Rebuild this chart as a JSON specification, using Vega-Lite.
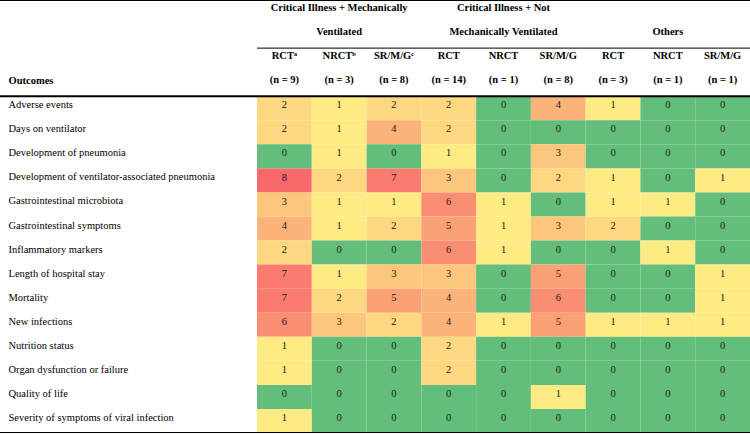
{
  "$schema": "https://vega.github.io/schema/vega-lite/v6.json",
  "width": 750,
  "height": 433,
  "autosize": {"type": "none"},
  "padding": 0,
  "background": "white",
  "config": {
    "view": {"stroke": null},
    "font": "Liberation Serif",
    "axisY": {"title": null, "domain": false, "ticks": false, "grid": false,
      "labelAlign": "left", "labelBaseline": "middle", "labelPadding": -8, "labelOffset": -3,
      "labelFont": "Liberation Serif", "labelFontSize": 10.5, "labelColor": "black",
      "labelLimit": 400, "labelOverlap": false}
  },
  "datasets": {
    "cells": [
      {"row": "Adverse events", "col": "c1", "value": 2}, {"row": "Adverse events", "col": "c2", "value": 1}, {"row": "Adverse events", "col": "c3", "value": 2}, {"row": "Adverse events", "col": "c4", "value": 2}, {"row": "Adverse events", "col": "c5", "value": 0}, {"row": "Adverse events", "col": "c6", "value": 4}, {"row": "Adverse events", "col": "c7", "value": 1}, {"row": "Adverse events", "col": "c8", "value": 0}, {"row": "Adverse events", "col": "c9", "value": 0},
      {"row": "Days on ventilator", "col": "c1", "value": 2}, {"row": "Days on ventilator", "col": "c2", "value": 1}, {"row": "Days on ventilator", "col": "c3", "value": 4}, {"row": "Days on ventilator", "col": "c4", "value": 2}, {"row": "Days on ventilator", "col": "c5", "value": 0}, {"row": "Days on ventilator", "col": "c6", "value": 0}, {"row": "Days on ventilator", "col": "c7", "value": 0}, {"row": "Days on ventilator", "col": "c8", "value": 0}, {"row": "Days on ventilator", "col": "c9", "value": 0},
      {"row": "Development of pneumonia", "col": "c1", "value": 0}, {"row": "Development of pneumonia", "col": "c2", "value": 1}, {"row": "Development of pneumonia", "col": "c3", "value": 0}, {"row": "Development of pneumonia", "col": "c4", "value": 1}, {"row": "Development of pneumonia", "col": "c5", "value": 0}, {"row": "Development of pneumonia", "col": "c6", "value": 3}, {"row": "Development of pneumonia", "col": "c7", "value": 0}, {"row": "Development of pneumonia", "col": "c8", "value": 0}, {"row": "Development of pneumonia", "col": "c9", "value": 0},
      {"row": "Development of ventilator-associated pneumonia", "col": "c1", "value": 8}, {"row": "Development of ventilator-associated pneumonia", "col": "c2", "value": 2}, {"row": "Development of ventilator-associated pneumonia", "col": "c3", "value": 7}, {"row": "Development of ventilator-associated pneumonia", "col": "c4", "value": 3}, {"row": "Development of ventilator-associated pneumonia", "col": "c5", "value": 0}, {"row": "Development of ventilator-associated pneumonia", "col": "c6", "value": 2}, {"row": "Development of ventilator-associated pneumonia", "col": "c7", "value": 1}, {"row": "Development of ventilator-associated pneumonia", "col": "c8", "value": 0}, {"row": "Development of ventilator-associated pneumonia", "col": "c9", "value": 1},
      {"row": "Gastrointestinal microbiota", "col": "c1", "value": 3}, {"row": "Gastrointestinal microbiota", "col": "c2", "value": 1}, {"row": "Gastrointestinal microbiota", "col": "c3", "value": 1}, {"row": "Gastrointestinal microbiota", "col": "c4", "value": 6}, {"row": "Gastrointestinal microbiota", "col": "c5", "value": 1}, {"row": "Gastrointestinal microbiota", "col": "c6", "value": 0}, {"row": "Gastrointestinal microbiota", "col": "c7", "value": 1}, {"row": "Gastrointestinal microbiota", "col": "c8", "value": 1}, {"row": "Gastrointestinal microbiota", "col": "c9", "value": 0},
      {"row": "Gastrointestinal symptoms", "col": "c1", "value": 4}, {"row": "Gastrointestinal symptoms", "col": "c2", "value": 1}, {"row": "Gastrointestinal symptoms", "col": "c3", "value": 2}, {"row": "Gastrointestinal symptoms", "col": "c4", "value": 5}, {"row": "Gastrointestinal symptoms", "col": "c5", "value": 1}, {"row": "Gastrointestinal symptoms", "col": "c6", "value": 3}, {"row": "Gastrointestinal symptoms", "col": "c7", "value": 2}, {"row": "Gastrointestinal symptoms", "col": "c8", "value": 0}, {"row": "Gastrointestinal symptoms", "col": "c9", "value": 0},
      {"row": "Inflammatory markers", "col": "c1", "value": 2}, {"row": "Inflammatory markers", "col": "c2", "value": 0}, {"row": "Inflammatory markers", "col": "c3", "value": 0}, {"row": "Inflammatory markers", "col": "c4", "value": 6}, {"row": "Inflammatory markers", "col": "c5", "value": 1}, {"row": "Inflammatory markers", "col": "c6", "value": 0}, {"row": "Inflammatory markers", "col": "c7", "value": 0}, {"row": "Inflammatory markers", "col": "c8", "value": 1}, {"row": "Inflammatory markers", "col": "c9", "value": 0},
      {"row": "Length of hospital stay", "col": "c1", "value": 7}, {"row": "Length of hospital stay", "col": "c2", "value": 1}, {"row": "Length of hospital stay", "col": "c3", "value": 3}, {"row": "Length of hospital stay", "col": "c4", "value": 3}, {"row": "Length of hospital stay", "col": "c5", "value": 0}, {"row": "Length of hospital stay", "col": "c6", "value": 5}, {"row": "Length of hospital stay", "col": "c7", "value": 0}, {"row": "Length of hospital stay", "col": "c8", "value": 0}, {"row": "Length of hospital stay", "col": "c9", "value": 1},
      {"row": "Mortality", "col": "c1", "value": 7}, {"row": "Mortality", "col": "c2", "value": 2}, {"row": "Mortality", "col": "c3", "value": 5}, {"row": "Mortality", "col": "c4", "value": 4}, {"row": "Mortality", "col": "c5", "value": 0}, {"row": "Mortality", "col": "c6", "value": 6}, {"row": "Mortality", "col": "c7", "value": 0}, {"row": "Mortality", "col": "c8", "value": 0}, {"row": "Mortality", "col": "c9", "value": 1},
      {"row": "New infections", "col": "c1", "value": 6}, {"row": "New infections", "col": "c2", "value": 3}, {"row": "New infections", "col": "c3", "value": 2}, {"row": "New infections", "col": "c4", "value": 4}, {"row": "New infections", "col": "c5", "value": 1}, {"row": "New infections", "col": "c6", "value": 5}, {"row": "New infections", "col": "c7", "value": 1}, {"row": "New infections", "col": "c8", "value": 1}, {"row": "New infections", "col": "c9", "value": 1},
      {"row": "Nutrition status", "col": "c1", "value": 1}, {"row": "Nutrition status", "col": "c2", "value": 0}, {"row": "Nutrition status", "col": "c3", "value": 0}, {"row": "Nutrition status", "col": "c4", "value": 2}, {"row": "Nutrition status", "col": "c5", "value": 0}, {"row": "Nutrition status", "col": "c6", "value": 0}, {"row": "Nutrition status", "col": "c7", "value": 0}, {"row": "Nutrition status", "col": "c8", "value": 0}, {"row": "Nutrition status", "col": "c9", "value": 0},
      {"row": "Organ dysfunction or failure", "col": "c1", "value": 1}, {"row": "Organ dysfunction or failure", "col": "c2", "value": 0}, {"row": "Organ dysfunction or failure", "col": "c3", "value": 0}, {"row": "Organ dysfunction or failure", "col": "c4", "value": 2}, {"row": "Organ dysfunction or failure", "col": "c5", "value": 0}, {"row": "Organ dysfunction or failure", "col": "c6", "value": 0}, {"row": "Organ dysfunction or failure", "col": "c7", "value": 0}, {"row": "Organ dysfunction or failure", "col": "c8", "value": 0}, {"row": "Organ dysfunction or failure", "col": "c9", "value": 0},
      {"row": "Quality of life", "col": "c1", "value": 0}, {"row": "Quality of life", "col": "c2", "value": 0}, {"row": "Quality of life", "col": "c3", "value": 0}, {"row": "Quality of life", "col": "c4", "value": 0}, {"row": "Quality of life", "col": "c5", "value": 0}, {"row": "Quality of life", "col": "c6", "value": 1}, {"row": "Quality of life", "col": "c7", "value": 0}, {"row": "Quality of life", "col": "c8", "value": 0}, {"row": "Quality of life", "col": "c9", "value": 0},
      {"row": "Severity of symptoms of viral infection", "col": "c1", "value": 1}, {"row": "Severity of symptoms of viral infection", "col": "c2", "value": 0}, {"row": "Severity of symptoms of viral infection", "col": "c3", "value": 0}, {"row": "Severity of symptoms of viral infection", "col": "c4", "value": 0}, {"row": "Severity of symptoms of viral infection", "col": "c5", "value": 0}, {"row": "Severity of symptoms of viral infection", "col": "c6", "value": 0}, {"row": "Severity of symptoms of viral infection", "col": "c7", "value": 0}, {"row": "Severity of symptoms of viral infection", "col": "c8", "value": 0}, {"row": "Severity of symptoms of viral infection", "col": "c9", "value": 0}
    ],
    "headers": [
      {"row": "h1", "col": "c2", "label": "Critical Illness + Mechanically"},
      {"row": "h2", "col": "c2", "label": "Ventilated"},
      {"row": "h1", "col": "c5", "label": "Critical Illness + Not"},
      {"row": "h2", "col": "c5", "label": "Mechanically Ventilated"},
      {"row": "h2", "col": "c8", "label": "Others"},
      {"row": "h3", "col": "c1", "label": "RCTᵃ"},
      {"row": "h3", "col": "c2", "label": "NRCTᵇ"},
      {"row": "h3", "col": "c3", "label": "SR/M/Gᶜ"},
      {"row": "h3", "col": "c4", "label": "RCT"},
      {"row": "h3", "col": "c5", "label": "NRCT"},
      {"row": "h3", "col": "c6", "label": "SR/M/G"},
      {"row": "h3", "col": "c7", "label": "RCT"},
      {"row": "h3", "col": "c8", "label": "NRCT"},
      {"row": "h3", "col": "c9", "label": "SR/M/G"},
      {"row": "Outcomes", "col": "c1", "label": "(n = 9)"},
      {"row": "Outcomes", "col": "c2", "label": "(n = 3)"},
      {"row": "Outcomes", "col": "c3", "label": "(n = 8)"},
      {"row": "Outcomes", "col": "c4", "label": "(n = 14)"},
      {"row": "Outcomes", "col": "c5", "label": "(n = 1)"},
      {"row": "Outcomes", "col": "c6", "label": "(n = 8)"},
      {"row": "Outcomes", "col": "c7", "label": "(n = 3)"},
      {"row": "Outcomes", "col": "c8", "label": "(n = 1)"},
      {"row": "Outcomes", "col": "c9", "label": "(n = 1)"}
    ]
  },
  "layer": [
    {
      "data": {"name": "cells"},
      "mark": {"type": "rect"},
      "encoding": {
        "x": {"field": "col", "type": "nominal", "axis": null,
          "scale": {"domain": ["c1","c2","c3","c4","c5","c6","c7","c8","c9"], "range": [257, 750], "paddingInner": 0, "paddingOuter": 0}},
        "y": {"field": "row", "type": "nominal",
          "scale": {"domain": ["h1","h2","h3","Outcomes","Adverse events","Days on ventilator","Development of pneumonia","Development of ventilator-associated pneumonia","Gastrointestinal microbiota","Gastrointestinal symptoms","Inflammatory markers","Length of hospital stay","Mortality","New infections","Nutrition status","Organ dysfunction or failure","Quality of life","Severity of symptoms of viral infection"], "paddingInner": 0, "paddingOuter": 0},
          "axis": {"orient": "left",
            "labelExpr": "indexof(['h1','h2','h3'], datum.value) >= 0 ? '' : datum.value",
            "labelFontWeight": {"condition": {"test": "datum.value == 'Outcomes'", "value": "bold"}, "value": "normal"}}},
        "color": {"field": "value", "type": "quantitative", "legend": null,
          "scale": {"domain": [0, 1, 8], "range": ["#63BE7B", "#FFEB84", "#F8696B"], "interpolate": "rgb"}}
      }
    },
    {
      "data": {"name": "cells"},
      "mark": {"type": "text", "font": "Liberation Serif", "fontSize": 10.5, "color": "#1a1a1a", "baseline": "middle", "align": "center"},
      "encoding": {
        "x": {"field": "col", "type": "nominal", "axis": null},
        "y": {"field": "row", "type": "nominal", "bandPosition": 0.38},
        "text": {"field": "value", "type": "quantitative"}
      }
    },
    {
      "data": {"name": "headers"},
      "mark": {"type": "text", "font": "Liberation Serif", "fontSize": 10.5, "fontWeight": "bold", "color": "black", "baseline": "middle", "align": "center"},
      "encoding": {
        "x": {"field": "col", "type": "nominal", "axis": null},
        "y": {"field": "row", "type": "nominal", "bandPosition": 0.33},
        "text": {"field": "label", "type": "nominal"}
      }
    },
    {
      "data": {"values": [{"row": "h1"}, {"row": "Adverse events"}]},
      "mark": {"type": "rule", "color": "black", "strokeWidth": 2},
      "encoding": {
        "y": {"field": "row", "type": "nominal", "bandPosition": 0}
      }
    },
    {
      "data": {"values": [{"row": "Severity of symptoms of viral infection"}]},
      "mark": {"type": "rule", "color": "black", "strokeWidth": 2},
      "encoding": {
        "y": {"field": "row", "type": "nominal", "bandPosition": 1}
      }
    },
    {
      "data": {"values": [{"row": "h2"}]},
      "mark": {"type": "rule", "color": "black", "strokeWidth": 1, "strokeDash": [493, 257]},
      "encoding": {
        "y": {"field": "row", "type": "nominal", "bandPosition": 1}
      }
    }
  ]
}
